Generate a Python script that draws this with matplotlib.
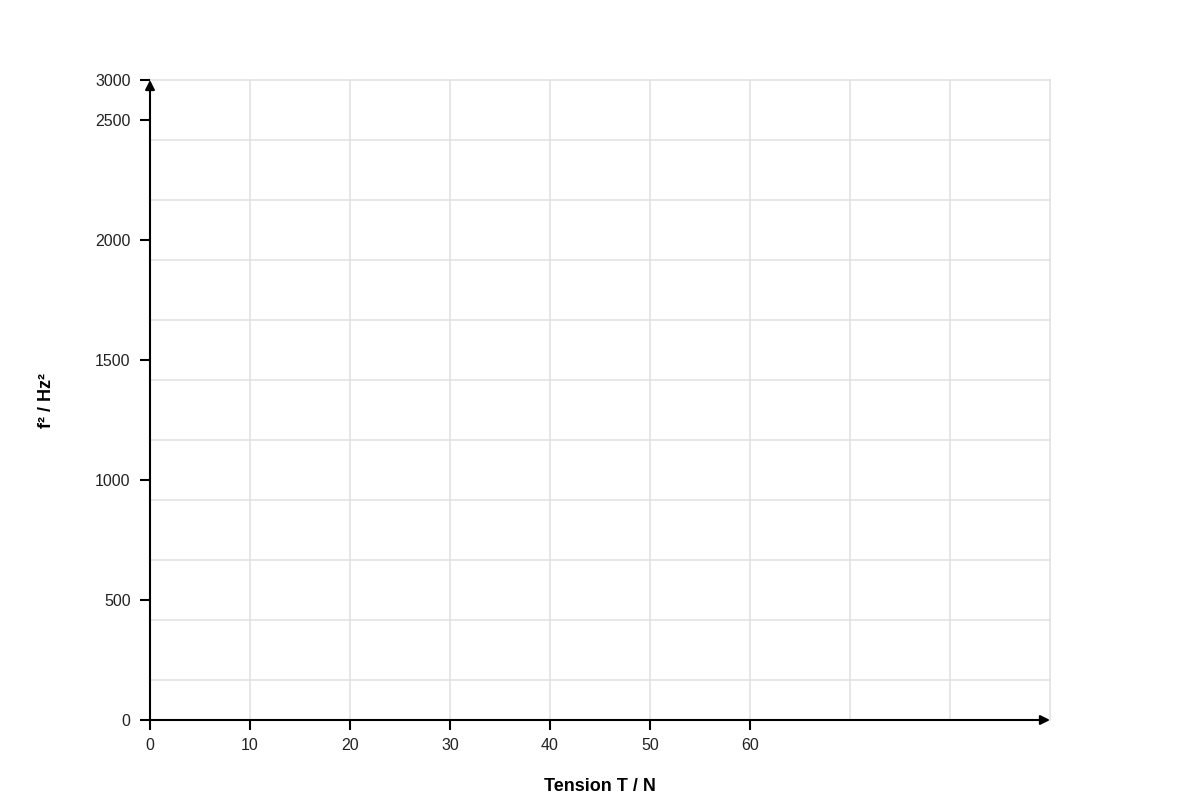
import matplotlib
matplotlib.use("Agg")
import matplotlib.pyplot as plt
import numpy as np

plt.rcParams['font.family'] = ['Liberation Sans', 'DejaVu Sans']

# axis data
x_ticks = [0, 10, 20, 30, 40, 50, 60]
x_max = 90
x_grid = [0, 10, 20, 30, 40, 50, 60, 70, 80, 90]
y_ticks = [0, 500, 1000, 1500, 2000, 2500]
y_top = 2500 * 640 / 600          # top of the drawn axis
y_top_label = "3000"
y_grid_step = 250
x_label = "Tension T / N"
y_label = "f² / Hz²"

fig = plt.figure(figsize=(12, 8), dpi=100)
ax = fig.add_axes([0.125, 0.1, 0.75, 0.8])
ax.set_xlim(0, x_max)
ax.set_ylim(0, y_top)

# grid lines (horizontal ones counted down from the top)
grid_c = '#e0e0e0'
for gx in x_grid:
    ax.plot([gx, gx], [0, y_top], color=grid_c, lw=1.1, zorder=0, clip_on=False)
for gy in y_top - y_grid_step * np.arange(0, 11):
    ax.plot([0, x_max], [gy, gy], color=grid_c, lw=1.1, zorder=0, clip_on=False)

for s in ['top', 'right', 'left', 'bottom']:
    ax.spines[s].set_visible(False)

# axis lines with arrows
arrow = dict(arrowstyle='-|>', lw=1.5, color='black', shrinkA=0, shrinkB=0,
             mutation_scale=14)
ax.annotate('', xy=(1, 0), xytext=(0, 0), xycoords='axes fraction',
            textcoords='axes fraction', arrowprops=arrow)
ax.annotate('', xy=(0, 1), xytext=(0, 0), xycoords='axes fraction',
            textcoords='axes fraction', arrowprops=arrow)

ax.set_xticks(x_ticks)
ax.set_xticklabels([str(t) for t in x_ticks])
ax.set_yticks(y_ticks + [y_top])
ax.set_yticklabels([str(t) for t in y_ticks] + [y_top_label])
ax.tick_params(axis='both', length=7, width=1.5, color='black',
               labelsize=11.5, labelcolor='#222222')
ax.tick_params(axis='x', pad=6)
ax.tick_params(axis='y', pad=7)

ax.set_xlabel(x_label, fontsize=13, fontweight='bold', labelpad=18)
ax.set_ylabel(y_label, fontsize=13, fontweight='bold', labelpad=29)

fig.savefig('out.png', dpi=100)
